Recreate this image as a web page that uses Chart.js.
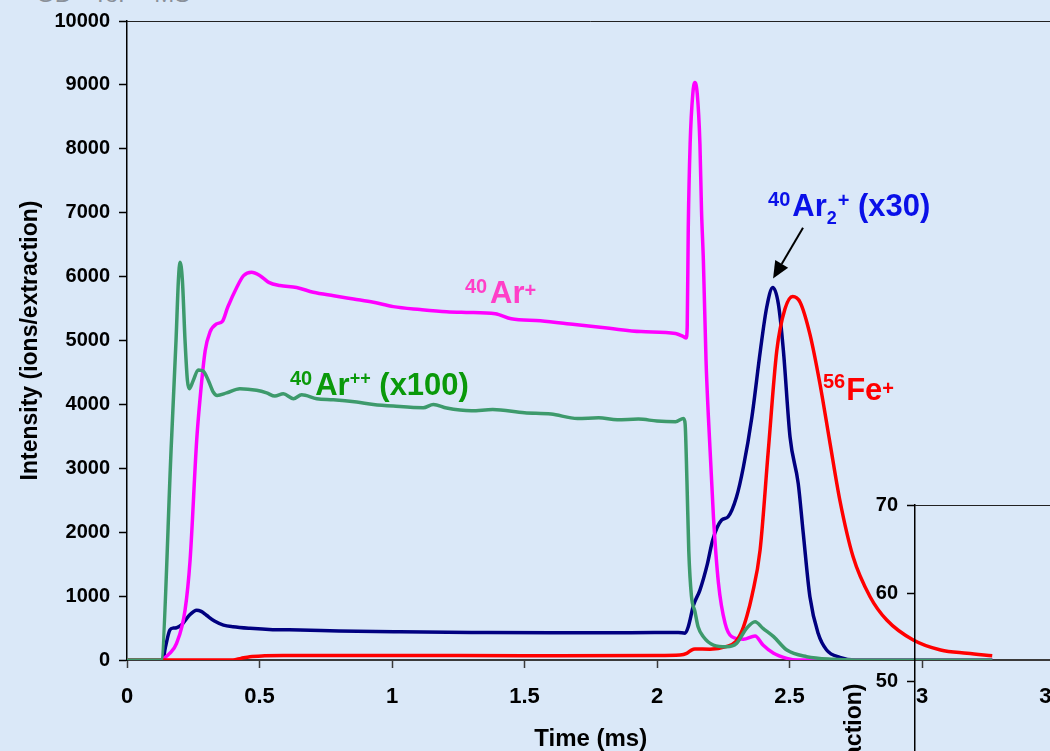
<!DOCTYPE html>
<html>
<head>
<meta charset="utf-8">
<script src="https://cdn.jsdelivr.net/npm/chart.js@4.4.0/dist/chart.umd.min.js"></script>
<style>
  html, body { margin: 0; padding: 0; background: #dae8f8; overflow: hidden; }
  #wrap { position: relative; width: 1050px; height: 751px; overflow: hidden; background: #dae8f8; }
  #main { position: absolute; left: 0; top: 0; }
  #inset { position: absolute; left: 780px; top: 480px; }
  #caption { position: absolute; left: 36px; top: -20px; font: 24px "Liberation Sans", Arial, sans-serif;
             line-height: 28px; color: #8a9099; white-space: pre; }
</style>
</head>
<body>
<div id="wrap">
  <div id="caption">GD - ToF - MS</div>
  <canvas id="main" width="1100" height="751"></canvas>
  <canvas id="inset" width="400" height="700"></canvas>
</div>
<script>
// time axis ticks (ms) and intensity ticks
const timeTicks = [0, 0.5, 1, 1.5, 2, 2.5, 3, 3.5];
const intensityTicks = [0, 1000, 2000, 3000, 4000, 5000, 6000, 7000, 8000, 9000, 10000];
const insetTicks = [0, 10, 20, 30, 40, 50, 60, 70];

// 40Ar+
const arTime = [0, 0.128, 0.137, 0.16, 0.187, 0.219, 0.238, 0.263, 0.275, 0.295, 0.313, 0.338, 0.36, 0.38,
  0.414, 0.44, 0.47, 0.502, 0.535, 0.577, 0.64, 0.703, 0.78, 0.855, 0.93, 1.005, 1.106, 1.206, 1.28, 1.39,
  1.45, 1.56, 1.69, 1.82, 1.94, 2.07, 2.1, 2.11, 2.114, 2.118, 2.125, 2.135, 2.143, 2.152, 2.162, 2.168,
  2.175, 2.185, 2.194, 2.213, 2.232, 2.257, 2.282, 2.326, 2.37, 2.4, 2.44, 2.49, 2.53, 3.265];
const arVals = [0, 0, 20, 100, 260, 780, 1560, 3440, 4060, 4840, 5130, 5260, 5300, 5520,
  5830, 6015, 6070, 6015, 5910, 5860, 5830, 5755, 5700, 5650, 5600, 5530, 5485, 5450, 5440, 5420,
  5340, 5310, 5250, 5190, 5140, 5110, 5060, 5040, 5210, 6770, 8075, 8855, 9036, 8855, 8075, 7030,
  6250, 4690, 3800, 2240, 1200, 573, 365, 323, 375, 234, 104, 26, 0, 0];

// 40Ar++ (x100)
const ar2Time = [0, 0.128, 0.168, 0.185, 0.194, 0.2, 0.209, 0.219, 0.228, 0.235, 0.25, 0.269, 0.288, 0.307,
  0.326, 0.34, 0.376, 0.426, 0.489, 0.527, 0.558, 0.59, 0.628, 0.659, 0.716, 0.779, 0.867, 0.93, 1.005,
  1.118, 1.156, 1.206, 1.3, 1.38, 1.5, 1.6, 1.7, 1.78, 1.85, 1.93, 2.0, 2.07, 2.1, 2.106, 2.113, 2.12,
  2.13, 2.143, 2.155, 2.175, 2.213, 2.263, 2.3, 2.338, 2.37, 2.4, 2.44, 2.49, 2.565, 2.665, 2.75, 3.265];
const ar2Vals = [0, 0, 3440, 5000, 5940, 6224, 5940, 5000, 4375, 4245, 4375, 4540, 4520, 4375,
  4190, 4140, 4180, 4245, 4220, 4180, 4130, 4165, 4090, 4150, 4090, 4073, 4036, 4000, 3974,
  3948, 4000, 3943, 3900, 3920, 3870, 3850, 3780, 3790, 3760, 3770, 3740, 3730, 3780, 3700, 2800, 1700,
  1000, 760, 520, 365, 234, 208, 260, 495, 600, 495, 365, 156, 52, 10, 0, 0];

// 40Ar2+ (x30)
const dimerTime = [0, 0.135, 0.145, 0.162, 0.175, 0.187, 0.206, 0.235, 0.263, 0.28, 0.3, 0.33, 0.364, 0.4,
  0.464, 0.55, 0.653, 0.8, 1.03, 1.3, 1.6, 1.9, 2.08, 2.106, 2.118, 2.138, 2.162, 2.19, 2.21, 2.244, 2.268,
  2.3, 2.326, 2.358, 2.39, 2.414, 2.437, 2.458, 2.477, 2.502, 2.533, 2.552, 2.577, 2.608, 2.64, 2.69,
  2.75, 3.265];
const dimerVals = [0, 0, 200, 470, 500, 505, 550, 700, 780, 760, 700, 610, 547, 520,
  495, 475, 470, 455, 442, 432, 425, 425, 432, 420, 520, 860, 1094, 1500, 1875, 2190, 2240,
  2550, 3020, 3800, 4840, 5520, 5830, 5570, 4840, 3490, 2760, 1980, 990, 417, 156, 42,
  0, 0];

// 56Fe+
const feTime = [0, 0.4, 0.43, 0.464, 0.52, 0.59, 1.0, 1.5, 2.0, 2.087, 2.112, 2.13, 2.143, 2.2, 2.26,
  2.297, 2.322, 2.34, 2.358, 2.389, 2.42, 2.452, 2.483, 2.512, 2.54, 2.577, 2.615, 2.653, 2.69, 2.74,
  2.804, 2.867, 2.967, 3.07, 3.17, 3.265];
const feVals = [0, 0, 25, 52, 65, 70, 70, 68, 70, 78, 104, 155, 172, 170, 208,
  286, 470, 700, 1000, 1720, 3280, 4840, 5495, 5690, 5600, 5100, 4320, 3390, 2500, 1615,
  990, 625, 312, 156, 105, 68];

const pairs = (xs, ys) => xs.map((x, i) => ({ x, y: ys[i] }));

const FONT = '"Liberation Sans", Arial, sans-serif';

// label pieces: [text, size, baseline shift, extra left gap]
const labels = [
  { x: 1.275, y: 5594, color: '#ff3fc8',
    parts: [['40', 20, -10, 0], ['Ar', 31, 0, 3], ['+', 20, -6, 0]] },
  { x: 0.615, y: 4140, color: '#0a990a',
    parts: [['40', 20, -10, 0], ['Ar', 31, 0, 3], ['++', 18, -11, 0], [' (x100)', 31, 0, 0]] },
  { x: 2.419, y: 6953, color: '#0a10e8',
    parts: [['40', 20, -10, 0], ['Ar', 31, 0, 2], ['2', 18, 8, 0], ['+', 20, -9, 1], [' (x30)', 31, 0, 0]] },
  { x: 2.626, y: 4062, color: '#ff0000',
    parts: [['56', 20, -12, 0], ['Fe', 31, 0, 1], ['+', 20, -5, 0]] }
];
const arrow = { from: [2.551, 6766], to: [2.438, 5969] };

const chartDecor = {
  id: 'chartDecor',
  afterDatasetsDraw(chart) {
    const { ctx, chartArea, scales } = chart;
    ctx.save();
    // frame line along the top of the plot
    ctx.strokeStyle = '#222';
    ctx.lineWidth = 1;
    ctx.beginPath();
    ctx.moveTo(chartArea.left, chartArea.top + 0.5);
    ctx.lineTo(chartArea.right, chartArea.top + 0.5);
    ctx.stroke();

    if (chart.options.plugins.chartDecor.labels) {
      ctx.textBaseline = 'alphabetic';
      ctx.textAlign = 'left';
      for (const lab of labels) {
        let cx = scales.x.getPixelForValue(lab.x);
        const by = scales.y.getPixelForValue(lab.y);
        ctx.fillStyle = lab.color;
        for (const [t, size, dy, gap] of lab.parts) {
          ctx.font = `bold ${size}px ${FONT}`;
          cx += gap;
          ctx.fillText(t, cx, by + dy);
          cx += ctx.measureText(t).width;
        }
      }
      // arrow pointing at the Ar2+ peak
      const x1 = scales.x.getPixelForValue(arrow.from[0]), y1 = scales.y.getPixelForValue(arrow.from[1]);
      const x2 = scales.x.getPixelForValue(arrow.to[0]), y2 = scales.y.getPixelForValue(arrow.to[1]);
      const ang = Math.atan2(y2 - y1, x2 - x1);
      const head = 17, half = 7.5;
      const bx = x2 - head * Math.cos(ang), byy = y2 - head * Math.sin(ang);
      ctx.strokeStyle = '#000';
      ctx.fillStyle = '#000';
      ctx.lineWidth = 2;
      ctx.beginPath();
      ctx.moveTo(x1, y1);
      ctx.lineTo(bx, byy);
      ctx.stroke();
      ctx.beginPath();
      ctx.moveTo(x2, y2);
      ctx.lineTo(bx + half * Math.sin(ang), byy - half * Math.cos(ang));
      ctx.lineTo(bx - half * Math.sin(ang), byy + half * Math.cos(ang));
      ctx.closePath();
      ctx.fill();
    }
    ctx.restore();
  }
};

const line = (data, color) => ({
  data, borderColor: color, borderWidth: 3.5, pointRadius: 0, fill: false,
  cubicInterpolationMode: 'monotone'
});

new Chart(document.getElementById('main'), {
  type: 'line',
  data: {
    datasets: [
      line(pairs(ar2Time, ar2Vals), '#3d9a6c'),
      line(pairs(feTime, feVals), '#ff0000'),
      line(pairs(arTime, arVals), '#ff00ff'),
      line(pairs(dimerTime, dimerVals), '#000080')
    ]
  },
  options: {
    responsive: false,
    animation: false,
    layout: { padding: { top: 20, right: 45.5, bottom: 0, left: 0 } },
    plugins: { legend: { display: false }, tooltip: { enabled: false }, chartDecor: { labels: true } },
    scales: {
      x: {
        type: 'linear', min: 0, max: 3.5,
        afterBuildTicks: s => { s.ticks = timeTicks.map(value => ({ value })); },
        afterFit: s => { s.height = 91; },
        border: { color: '#3a3a3a', width: 2 },
        grid: { drawOnChartArea: false, color: '#3a3a3a', tickLength: 8, tickWidth: 1.5 },
        ticks: { color: '#000', padding: 16, maxRotation: 0, font: { family: FONT, size: 22, weight: 'bold' },
                 callback: v => String(v) },
        title: { display: true, text: 'Time (ms)', color: '#000', padding: { top: 0, bottom: -3 },
                 font: { family: FONT, size: 24, weight: 'bold' } }
      },
      y: {
        min: 0, max: 10000,
        afterBuildTicks: s => { s.ticks = intensityTicks.map(value => ({ value })); },
        afterFit: s => { s.width = 127; },
        border: { color: '#000', width: 1.5 },
        grid: { drawOnChartArea: false, color: '#000', tickLength: 8, tickWidth: 1.5 },
        ticks: { color: '#000', padding: 9, font: { family: FONT, size: 20, weight: 'bold' },
                 callback: v => String(v) },
        title: { display: true, text: 'Intensity (ions/extraction)', color: '#000', padding: { top: 17, bottom: 0 },
                 font: { family: FONT, size: 23, weight: 'bold' } }
      }
    }
  },
  plugins: [chartDecor]
});

// small second panel in the lower right
new Chart(document.getElementById('inset'), {
  type: 'line',
  data: { datasets: [] },
  options: {
    responsive: false,
    animation: false,
    layout: { padding: { top: 25, right: 0, bottom: 38, left: 44 } },
    plugins: { legend: { display: false }, tooltip: { enabled: false }, chartDecor: { labels: false } },
    scales: {
      x: { type: 'linear', min: 0, max: 1, display: false },
      y: {
        min: -2, max: 70,
        afterBuildTicks: s => { s.ticks = insetTicks.map(value => ({ value })); },
        afterFit: s => { s.width = 91; },
        border: { color: '#000', width: 1.5 },
        grid: { drawOnChartArea: false, color: '#000', tickLength: 8, tickWidth: 1.5 },
        ticks: { color: '#000', padding: 9, font: { family: FONT, size: 20, weight: 'bold' } },
        title: { display: true, text: 'Intensity (ions/extraction)', color: '#000', padding: { top: 17, bottom: 0 },
                 font: { family: FONT, size: 23, weight: 'bold' } }
      }
    }
  },
  plugins: [chartDecor]
});
</script>
</body>
</html>
